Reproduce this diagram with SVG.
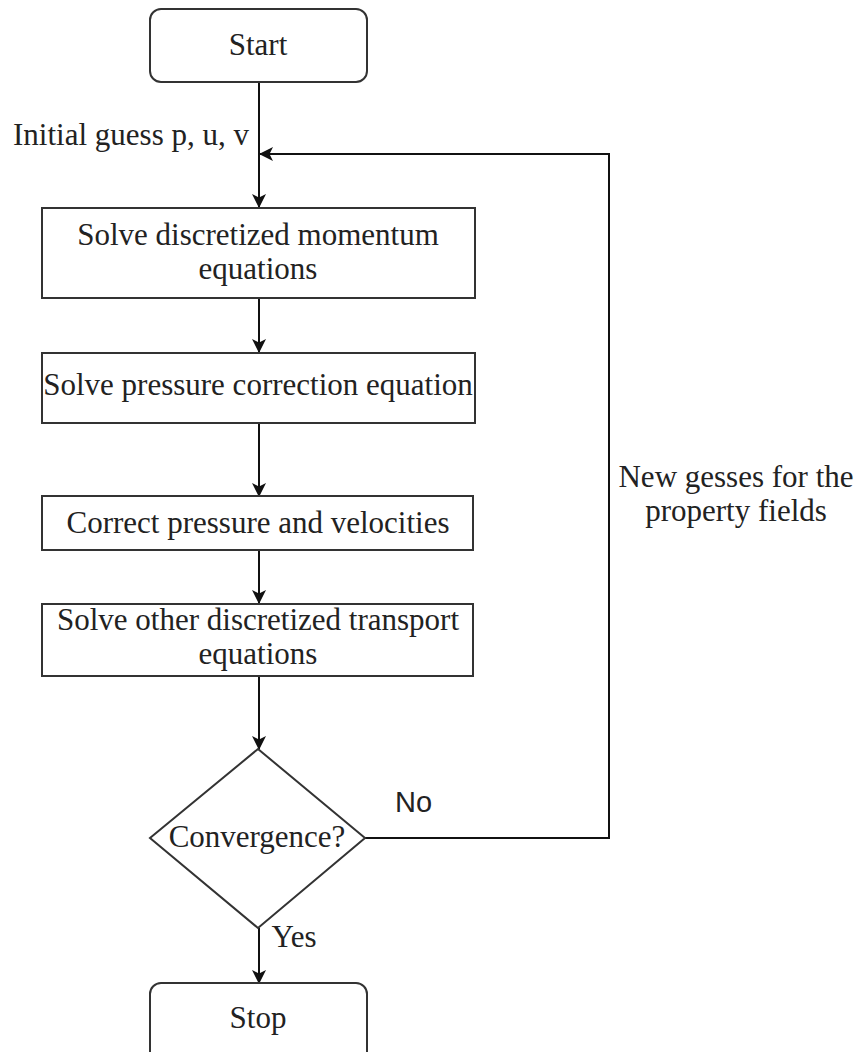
<svg xmlns="http://www.w3.org/2000/svg" width="861" height="1052" viewBox="0 0 861 1052">
<style>
.box{fill:#fff;stroke:#333;stroke-width:2}
.t{font-family:"Liberation Serif","Times New Roman",serif;font-size:31px;fill:#222;text-anchor:middle}
.s{font-family:"Liberation Sans",Arial,sans-serif;font-size:29px;fill:#222}
.c{fill:none;stroke:#111;stroke-width:2}
</style>
<defs>
<marker id="ah" viewBox="0 0 14 14" refX="13" refY="7" markerWidth="14" markerHeight="14" markerUnits="userSpaceOnUse" orient="auto">
<path d="M0,0 L14,7 L0,14 L3.5,7 Z" fill="#111"/>
</marker>
</defs>
<rect width="861" height="1052" fill="#fff"/>
<g id="connectors">
<path class="c" d="M259,82 V207" marker-end="url(#ah)"/>
<path class="c" d="M259,298 V352" marker-end="url(#ah)"/>
<path class="c" d="M259,423 V496" marker-end="url(#ah)"/>
<path class="c" d="M259,550 V603" marker-end="url(#ah)"/>
<path class="c" d="M259,676 V749" marker-end="url(#ah)"/>
<path class="c" d="M259,928 V983" marker-end="url(#ah)"/>
<path class="c" d="M365,838 H609 V154 H260" marker-end="url(#ah)"/>
<text class="t" x="131" y="145">Initial guess p, u, v</text>
<text class="s" x="395" y="812">No</text>
<text class="t" x="294" y="947">Yes</text>
<text class="t" x="736" y="487">New gesses for the</text>
<text class="t" x="736" y="521">property fields</text>
</g>
<g id="start">
<rect class="box" x="150" y="9" width="217" height="73" rx="11"/>
<text class="t" x="258" y="55">Start</text>
</g>
<g id="momentum">
<rect class="box" x="42" y="208" width="433" height="90"/>
<text class="t" x="258" y="245">Solve discretized momentum</text>
<text class="t" x="258" y="279">equations</text>
</g>
<g id="pressure">
<rect class="box" x="42" y="353" width="433" height="70"/>
<text class="t" x="258" y="395">Solve pressure correction equation</text>
</g>
<g id="correct">
<rect class="box" x="42" y="496" width="431" height="54"/>
<text class="t" x="258" y="533">Correct pressure and velocities</text>
</g>
<g id="transport">
<rect class="box" x="42" y="604" width="431" height="72"/>
<text class="t" x="258" y="630">Solve other discretized transport</text>
<text class="t" x="258" y="664">equations</text>
</g>
<g id="convergence">
<path class="box" d="M258,749 L365,838 L258,928 L150,838 Z"/>
<text class="t" x="257" y="847">Convergence?</text>
</g>
<g id="stop">
<rect class="box" x="150" y="983" width="217" height="80" rx="11"/>
<text class="t" x="258" y="1028">Stop</text>
</g>
</svg>
